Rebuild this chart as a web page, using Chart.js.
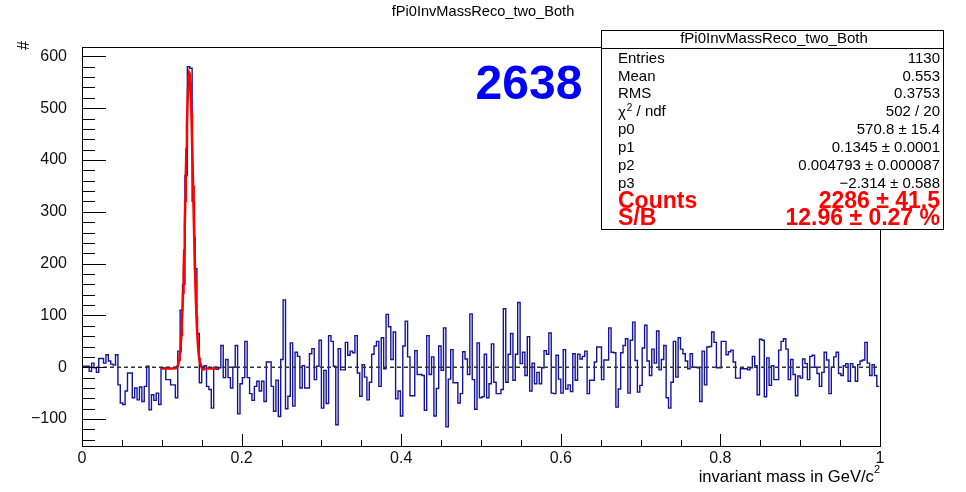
<!DOCTYPE html>
<html>
<head>
<meta charset="utf-8">
<title>fPi0InvMassReco_two_Both</title>
<script src="https://cdn.jsdelivr.net/npm/chart.js@4.4.1/dist/chart.umd.min.js"></script>
<style>
  html, body { margin: 0; padding: 0; background: #fff; }
  canvas { display: block; }
</style>
</head>
<body>
<canvas id="invmass" width="966" height="492"></canvas>
<script>
// histogram: 333 bins of 3 MeV from 0 to 0.999 GeV/c^2
const BIN_WIDTH = 0.003;
const binCounts = [
    2, 2, 2, -8, 8, -1, -10, 17, 17, 8,
    24, 12, 6, 4, 24, -34, -69, -72, -46, -11,
    -11, -59, -40, -63, -38, -66, -37, 2, -82, -53,
    -64, -50, -72, -1, -1, -24, -24, -34, -34, -59,
    31, 110, 160, 370, 580, 577, 320, 190, 65, -30,
    -5, 3, -37, -43, -79, 0, -4, -1, 42, -20,
    15, -20, -40, 0, 42, -90, -32, -20, 50, -20,
    -51, -64, -37, -27, -46, -27, -66, 10, 10, -37,
    -85, -25, -95, 15, 130, -80, -56, 47, -75, 29,
    21, -40, 3, -40, -40, 26, 36, -24, 2, 52,
    -79, -6, -70, 61, 50, 2, -111, 36, -5, -5,
    48, 23, 31, 28, 61, -11, -56, 5, -19, -63,
    -29, 25, 41, 50, -37, 57, -3, 102, 78, 15,
    68, -61, -46, -94, 41, 89, 20, -55, -55, 32,
    -14, -14, -16, -83, 61, -14, 20, -94, -41, 41,
    -6, 76, -115, -23, 34, -30, -30, -69, -51, 30,
    16, -14, 103, -24, -81, 47, -59, -57, 25, -59,
    -32, 45, -29, -51, -51, -43, 113, -29, 25, 65,
    -25, 25, 125, 7, 29, -16, 59, -46, 8, -32,
    -10, -32, -1, 32, 25, 66, -50, -51, 23, -23,
    -50, 34, -42, -34, -47, 26, -25, 25, 16, 21,
    31, -51, -25, -25, 10, 39, 39, -24, 14, 14,
    76, 29, 28, -77, -42, 28, 42, 55, -50, 52,
    87, 13, -48, -35, 37, 81, 12, -16, 35, 8,
    70, -5, 15, 42, -59, -79, -29, 50, -19, 57,
    35, 26, 12, -3, 26, 0, 0, -1, -66, 31,
    -34, 39, 40, 68, 48, -1, -1, 50, 50, 24,
    30, 33, 10, -21, -21, -3, -3, -3, -5, -1,
    21, 3, -53, 54, 52, -57, 18, -35, 3, -24,
    -24, 33, 50, 55, 35, -24, 15, -14, -55, -17,
    -21, 16, 7, -24, 21, 23, 0, -12, -37, -10,
    29, 14, -51, 0, 20, 29, -12, -16, 3, 7,
    -27, 7, 0, -27, 5, 12, 14, 48, 8, -16,
    5, -16, -37
];

// gaus + pol0 fit, as printed in the stats box
const fitParams = [570.8, 0.1345, 0.004793, -2.314];
const fitErrors = ['15.4', '0.0001', '0.000087', '0.588'];
const fitRange = [0.1, 0.17];

// axis ticks
const xTickValues = [0, 0.2, 0.4, 0.6, 0.8, 1];
const xTickLabels = ['0', '0.2', '0.4', '0.6', '0.8', '1'];
const yTickValues = [-100, 0, 100, 200, 300, 400, 500, 600];
const yTickLabels = ['\u2212100', '0', '100', '200', '300', '400', '500', '600'];

// stats box
const histName = 'fPi0InvMassReco_two_Both';
const statLabels = ['Entries', 'Mean', 'RMS', 'chi2', 'p0', 'p1', 'p2', 'p3'];
const statValues = ['1130', '0.553', '0.3753', '502 / 20'];
const countsText = ['Counts', '2286 \u00b1 41.5'];
const sbText = ['S/B', '12.96 \u00b1 0.27 %'];
const yieldText = '2638';

const FONT = '"Liberation Sans", Arial, Helvetica, sans-serif';
Chart.defaults.font.family = FONT;

function fitFunc(m) {
    const [p0, p1, p2, p3] = fitParams;
    const d = (m - p1) / p2;
    return p0 * Math.exp(-0.5 * d * d) + p3;
}

function fmt(v) {
    return String(v).replace('-', '\u2212');
}

// step outline: each point is a bin's low edge, plus the last high edge
const histPoints = binCounts.map((c, i) => ({ x: i * BIN_WIDTH, y: c }));
histPoints.push({ x: binCounts.length * BIN_WIDTH, y: binCounts[binCounts.length - 1] });

const fitPoints = [];
for (let i = 0; i <= 100; i++) {
    const m = fitRange[0] + (fitRange[1] - fitRange[0]) * i / 100;
    fitPoints.push({ x: m, y: fitFunc(m) });
}

// frame, inward ticks, titles and stats box in ROOT style
const rootDecor = {
    id: 'rootDecor',
    afterDatasetsDraw(chart) {
        const { ctx, chartArea: a, scales: { x, y } } = chart;
        ctx.save();
        ctx.strokeStyle = '#000';
        ctx.lineWidth = 1;
        ctx.strokeRect(Math.round(a.left) + 0.5, Math.round(a.top) + 0.5,
            Math.round(a.right - a.left), Math.round(a.bottom - a.top));

        ctx.beginPath();
        for (let v = -140; v <= 600; v += 20) {
            const py = Math.round(y.getPixelForValue(v)) + 0.5;
            const len = v % 100 === 0 ? 24 : 13;
            ctx.moveTo(a.left, py);
            ctx.lineTo(a.left + len, py);
        }
        for (let k = 0; k <= 20; k++) {
            const px = Math.round(x.getPixelForValue(k * 0.05)) + 0.5;
            const len = k % 4 === 0 ? 12 : 6;
            ctx.moveTo(px, a.bottom);
            ctx.lineTo(px, a.bottom - len);
        }
        ctx.stroke();
        ctx.restore();
    },
    afterDraw(chart) {
        const { ctx, chartArea: a } = chart;
        ctx.save();
        ctx.fillStyle = '#000';
        ctx.textBaseline = 'middle';

        // title
        ctx.font = '14.6px ' + FONT;
        ctx.textAlign = 'center';
        ctx.fillText(histName, 483, 12);

        // y title
        ctx.save();
        ctx.translate(25, 41);
        ctx.rotate(-Math.PI / 2);
        ctx.font = '16px ' + FONT;
        ctx.textAlign = 'right';
        ctx.fillText('#', 0, 0);
        ctx.restore();

        // x title with superscript
        ctx.font = '11px ' + FONT;
        const supW = ctx.measureText('2').width;
        ctx.textAlign = 'right';
        ctx.fillText('2', a.right, 470);
        ctx.font = '16.6px ' + FONT;
        ctx.fillText('invariant mass in GeV/c', a.right - supW, 477);

        // signal yield
        ctx.fillStyle = '#0000ff';
        ctx.font = 'bold 48px ' + FONT;
        ctx.textAlign = 'center';
        ctx.fillText(yieldText, 529, 86);

        // stats box
        const bx0 = 601, by0 = 30, bx1 = 943, by1 = 229;
        ctx.fillStyle = '#fff';
        ctx.fillRect(bx0, by0, bx1 - bx0, by1 - by0);
        ctx.strokeStyle = '#000';
        ctx.lineWidth = 1;
        ctx.strokeRect(bx0 + 0.5, by0 + 0.5, bx1 - bx0, by1 - by0);
        ctx.beginPath();
        ctx.moveTo(bx0, 48.5);
        ctx.lineTo(bx1, 48.5);
        ctx.stroke();

        ctx.fillStyle = '#000';
        ctx.font = '15px ' + FONT;
        ctx.textAlign = 'center';
        ctx.fillText(histName, (bx0 + bx1) / 2 + 2, 39);

        const values = statValues.concat(fitParams.map((p, i) => fmt(p) + ' \u00b1 ' + fitErrors[i]));
        const lx = 618, rx = 940;
        statLabels.forEach((lab, i) => {
            const ry = 58.5 + i * 17.9;
            ctx.font = '15px ' + FONT;
            ctx.textAlign = 'left';
            if (lab === 'chi2') {
                ctx.fillText('\u03c7', lx, ry + 1);
                const w = ctx.measureText('\u03c7').width;
                ctx.font = '10px ' + FONT;
                ctx.fillText('2', lx + w + 1, ry - 4);
                const w2 = ctx.measureText('2').width;
                ctx.font = '15px ' + FONT;
                ctx.fillText(' / ndf', lx + w + w2 + 1, ry);
            } else {
                ctx.fillText(lab, lx, ry);
            }
            ctx.textAlign = 'right';
            ctx.fillText(values[i], rx, ry);
        });

        ctx.fillStyle = '#ff0000';
        ctx.font = 'bold 23px ' + FONT;
        [countsText, sbText].forEach((row, i) => {
            const ry = 202 + i * 16.5;
            ctx.textAlign = 'left';
            ctx.fillText(row[0], lx, ry);
            ctx.textAlign = 'right';
            ctx.fillText(row[1], rx, ry);
        });
        ctx.restore();
    }
};

new Chart(document.getElementById('invmass'), {
    type: 'line',
    data: {
        datasets: [
            {
                label: 'zero',
                data: [{ x: 0, y: 0 }, { x: 1, y: 0 }],
                borderColor: '#333',
                borderWidth: 1.3,
                borderDash: [4, 3],
                pointRadius: 0,
                order: 0
            },
            {
                label: 'fit',
                data: fitPoints,
                borderColor: '#ff0000',
                borderWidth: 2.5,
                pointRadius: 0,
                order: 1
            },
            {
                label: histName,
                data: histPoints,
                stepped: 'before',
                borderColor: '#14149c',
                borderWidth: 1.4,
                pointRadius: 0,
                order: 2
            }
        ]
    },
    options: {
        responsive: false,
        animation: false,
        events: [],
        layout: { padding: { left: 0, top: 47, right: 86, bottom: 0 } },
        plugins: {
            legend: { display: false },
            tooltip: { enabled: false },
            title: { display: false }
        },
        scales: {
            x: {
                type: 'linear',
                min: 0,
                max: 1,
                grid: { display: false, drawTicks: false },
                border: { display: false },
                ticks: {
                    color: '#111',
                    font: { size: 16 },
                    padding: 3,
                    maxRotation: 0,
                    callback: (v, i) => xTickLabels[i]
                },
                afterBuildTicks: s => { s.ticks = xTickValues.map(v => ({ value: v })); },
                afterFit: s => { s.height = 46; }
            },
            y: {
                type: 'linear',
                min: -152,
                max: 618,
                grid: { display: false, drawTicks: false },
                border: { display: false },
                ticks: {
                    color: '#111',
                    font: { size: 16 },
                    padding: 15,
                    callback: (v, i) => yTickLabels[i]
                },
                afterBuildTicks: s => { s.ticks = yTickValues.map(v => ({ value: v })); },
                afterFit: s => { s.width = 82; }
            }
        }
    },
    plugins: [rootDecor]
});
</script>
</body>
</html>
